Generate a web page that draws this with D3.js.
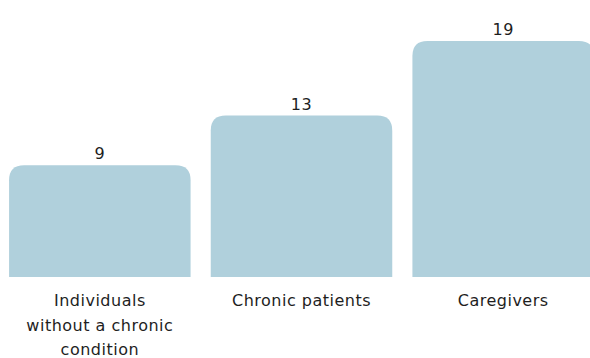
<!DOCTYPE html>
<html>
<head>
<meta charset="utf-8">
<script src="https://cdn.jsdelivr.net/npm/d3@7"></script>
<style>
  body { margin: 0; background: #fff; }
  svg text { font-family: "DejaVu Sans", sans-serif; fill: #1e1e1e; letter-spacing: 0.5px; }
</style>
</head>
<body>
<div class="bar-diagram"></div>
<script>
var categories = ["Individuals without a chronic condition", "Chronic patients", "Caregivers"];
var values = [9, 13, 19];

var svgWidth = 590;
var svgHeight = 358;
var baseline = 277;
var radius = 15;

var svg = d3.select('.bar-diagram')
  .append('svg')
  .attr('width', svgWidth)
  .attr('height', svgHeight);

var xScale = d3.scaleBand()
  .domain(categories)
  .range([-1, 604])
  .paddingInner(0.1)
  .paddingOuter(0.05);

var yScale = d3.scaleLinear()
  .domain([0, 19])
  .range([baseline, 41]);

// bars with rounded top corners
function barPath(x, y, w, h, r) {
  return "M" + x + "," + (y + h) +
    "V" + (y + r) +
    "Q" + x + "," + y + " " + (x + r) + "," + y +
    "H" + (x + w - r) +
    "Q" + (x + w) + "," + y + " " + (x + w) + "," + (y + r) +
    "V" + (y + h) + "Z";
}

svg.selectAll('path.bar')
  .data(values)
  .enter()
  .append('path')
  .attr('class', 'bar')
  .attr('fill', '#b0d0dc')
  .attr('d', function (d, i) {
    var x = xScale(categories[i]);
    return barPath(x, yScale(d), xScale.bandwidth(), yScale(0) - yScale(d), radius);
  });

// value labels
svg.selectAll('text.value')
  .data(values)
  .enter()
  .append('text')
  .attr('class', 'value')
  .attr('text-anchor', 'middle')
  .attr('font-size', 16)
  .attr('x', function (d, i) { return xScale(categories[i]) + xScale.bandwidth() / 2; })
  .attr('y', function (d) { return yScale(d) - 6; })
  .text(function (d) { return d; });

// category axis
var xAxis = d3.axisBottom(xScale).tickSize(0).tickPadding(0);
var gx = svg.append("g")
  .attr("class", "x axis")
  .attr("transform", "translate(0," + baseline + ")")
  .call(xAxis);
gx.select(".domain").remove();
gx.selectAll("text")
  .attr("font-size", 16)
  .attr("fill", "#1e1e1e")
  .attr("font-family", "DejaVu Sans, sans-serif")
  .call(wrap, 155);

function wrap(texts, width) {
  texts.each(function () {
    var text = d3.select(this);
    var words = text.text().split(/\s+/);
    text.text(null).attr("dy", null);
    var line = [];
    var lineNo = 0;
    var tspan = text.append("tspan").attr("x", 0).attr("y", 29);
    words.forEach(function (word) {
      line.push(word);
      tspan.text(line.join(" "));
      if (tspan.node().getComputedTextLength() > width && line.length > 1) {
        line.pop();
        tspan.text(line.join(" "));
        line = [word];
        lineNo++;
        tspan = text.append("tspan").attr("x", 0).attr("y", 29 + lineNo * 24.5).text(word);
      }
    });
  });
}
</script>
</body>
</html>
